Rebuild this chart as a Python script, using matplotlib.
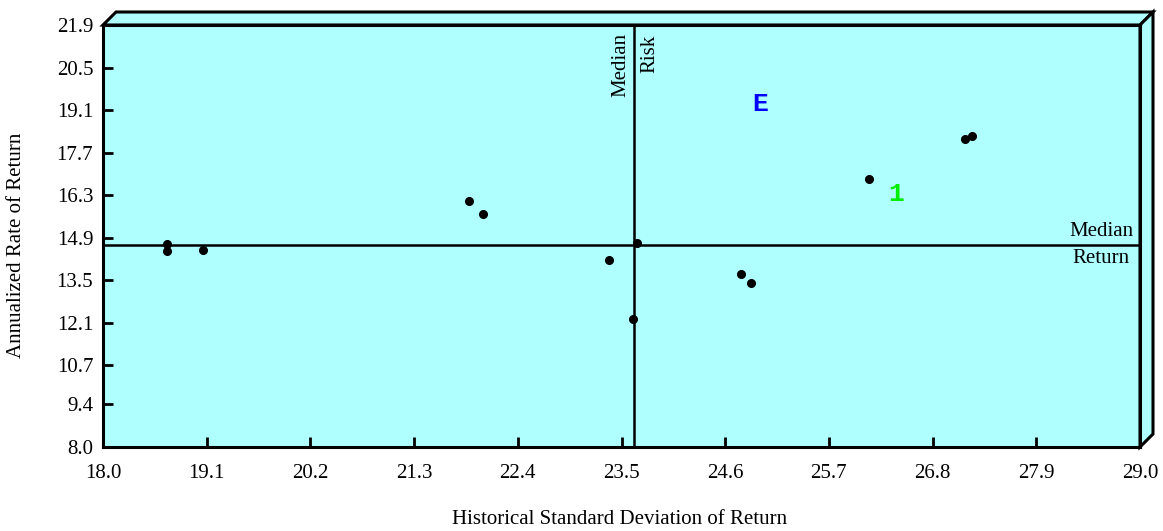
import numpy as np
import matplotlib.pyplot as plt
from matplotlib.patches import Polygon

# data
risk = [18.68, 18.68, 19.06, 21.88, 22.03, 23.37, 23.66, 23.62, 24.77, 24.87, 26.13, 27.14, 27.22]
ret = [14.68, 14.46, 14.49, 16.10, 15.67, 14.16, 14.72, 12.22, 13.70, 13.40, 16.83, 18.14, 18.24]

median_risk = 23.63
median_return = 14.65

labels = ['E', '1']
label_x = [24.97, 26.41]
label_y = [19.30, 16.33]
label_colors = ['#0000ff', '#00ee00']

xticks = [18.0, 19.1, 20.2, 21.3, 22.4, 23.5, 24.6, 25.7, 26.8, 27.9, 29.0]
yticks = [8.0, 9.4, 10.7, 12.1, 13.5, 14.9, 16.3, 17.7, 19.1, 20.5, 21.9]

face = '#b0ffff'

def main():
    plt.rcParams['font.family'] = ['Liberation Serif', 'DejaVu Serif']
    fig = plt.figure(figsize=(11.63, 5.31), dpi=100)
    W, H = 1163, 531
    l, r, t, b = 103, 1140, 25, 447
    ax = fig.add_axes([l / W, 1 - b / H, (r - l) / W, (b - t) / H])
    ax.set_facecolor(face)
    ax.set_xlim(18.0, 29.0)
    ax.set_ylim(8.0, 21.9)

    # 3d-looking box: top and right faces
    dx = 13 / (r - l)
    dy = 13 / (b - t)
    top = Polygon([[0, 1], [dx, 1 + dy], [1 + dx, 1 + dy], [1, 1]], closed=True,
                  facecolor=face, edgecolor='black', lw=2.2,
                  transform=ax.transAxes, clip_on=False, zorder=0.5)
    side = Polygon([[1, 1], [1 + dx, 1 + dy], [1 + dx, dy], [1, 0]], closed=True,
                   facecolor=face, edgecolor='black', lw=2.2,
                   transform=ax.transAxes, clip_on=False, zorder=0.5)
    ax.add_patch(top)
    ax.add_patch(side)

    for s in ax.spines.values():
        s.set_linewidth(2.2)

    ax.axvline(median_risk, color='black', lw=1.8)
    ax.axhline(median_return, color='black', lw=1.8)

    ax.plot(risk, ret, 'o', color='black', markersize=5.5, zorder=3)

    for s, x, y, c in zip(labels, label_x, label_y, label_colors):
        ax.text(x, y, s, color=c, fontsize=19, fontweight='bold',
                family='Liberation Mono', ha='center', va='center')

    ax.text(median_risk - 0.04, 21.65, 'Median', rotation=90, ha='right', va='top', fontsize=15)
    ax.text(median_risk + 0.07, 21.58, 'Risk', rotation=90, ha='left', va='top', fontsize=15)
    ax.text(28.59, median_return + 0.12, 'Median', ha='center', va='bottom', fontsize=15)
    ax.text(28.59, median_return - 0.12, 'Return', ha='center', va='top', fontsize=15)

    ax.set_xticks(xticks)
    ax.set_xticklabels(['%.1f' % v for v in xticks])
    ax.set_yticks(yticks)
    ax.set_yticklabels(['%.1f' % v for v in yticks])
    ax.tick_params(direction='in', length=7, width=2, labelsize=15, pad=7)
    ax.tick_params(axis='x', pad=12)

    fig.text(620 / W, 1 - 520 / H, 'Historical Standard Deviation of Return',
             ha='center', va='center', fontsize=15)
    fig.text(17 / W, 1 - 245 / H, 'Annualized Rate of Return', rotation=90,
             ha='center', va='center', fontsize=15)

    fig.savefig('out.png', dpi=100)

if __name__ == "__main__":
    main()
